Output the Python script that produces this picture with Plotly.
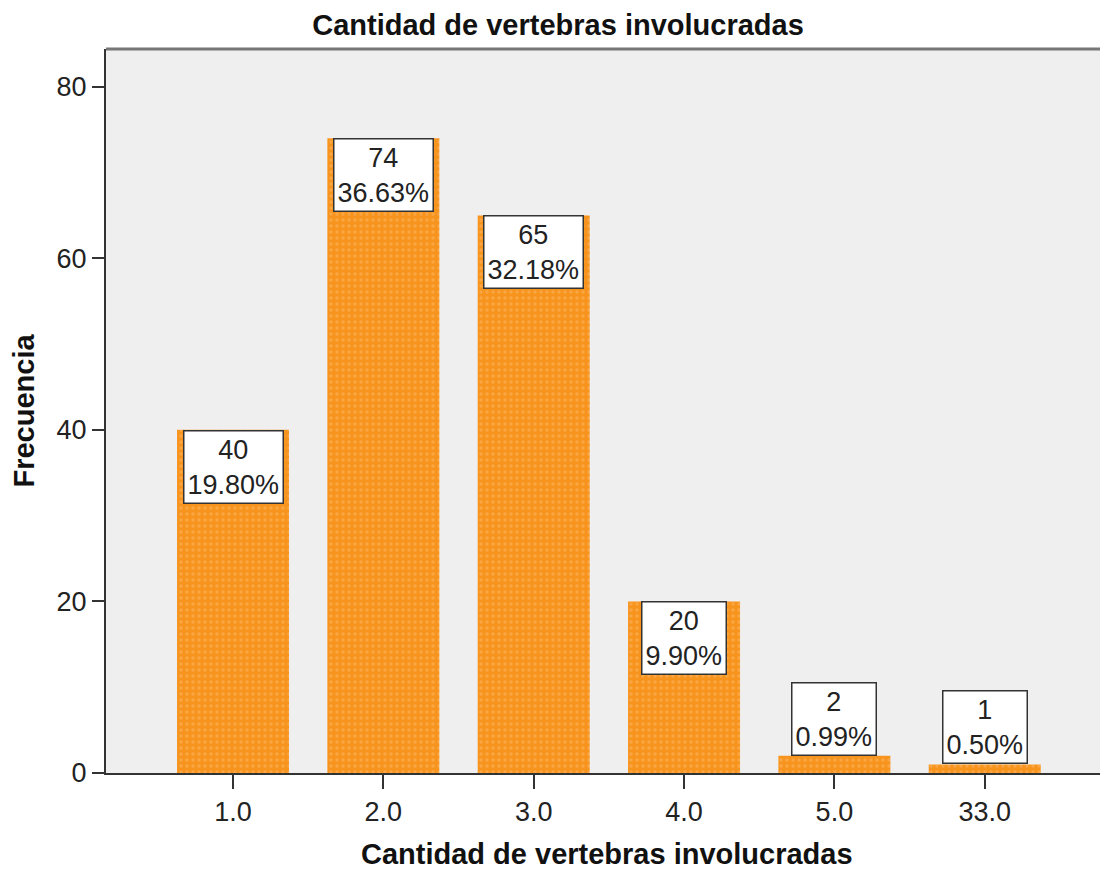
import plotly.graph_objects as go

categories = ["1.0", "2.0", "3.0", "4.0", "5.0", "33.0"]
counts = [40, 74, 65, 20, 2, 1]
percents = ["19.80%", "36.63%", "32.18%", "9.90%", "0.99%", "0.50%"]
y_ticks = [0, 20, 40, 60, 80]

FONT = "Liberation Sans, Arial, sans-serif"
TXT = "#222222"

positions = list(range(len(categories)))

fig = go.Figure()
fig.add_trace(go.Bar(
    x=positions, y=counts, width=0.745,
    marker=dict(color="#F7941E", line=dict(width=0),
                pattern=dict(shape=".", fgcolor="#FBB868", bgcolor="#F7941E",
                             size=6, solidity=0.25)),
    hoverinfo="skip",
))

annotations = []
px_per_unit = 724 / 84.4
for p, c, pc in zip(positions, counts, percents):
    inside = c * px_per_unit > 76
    annotations.append(dict(
        x=p, y=c, xref="x", yref="y",
        text=f"{c}<br>{pc}", showarrow=False,
        yanchor="top" if inside else "bottom", xanchor="center",
        font=dict(family=FONT, size=27, color=TXT),
        bgcolor="white", bordercolor="#333333", borderwidth=1.5, borderpad=3,
    ))

annotations.append(dict(
    text="<b>Cantidad de vertebras involucradas</b>", showarrow=False,
    xref="paper", yref="paper", x=0.5, y=-0.112, xanchor="center", yanchor="middle",
    font=dict(family=FONT, size=29, color="#111111"),
))

fig.update_layout(
    width=1100, height=862,
    margin=dict(l=98, r=0, t=41, b=97),
    paper_bgcolor="white", plot_bgcolor="#EFEFEF",
    showlegend=False,
    title=dict(text="<b>Cantidad de vertebras involucradas</b>", x=0.5, xref="container",
               y=0.980, yref="container", yanchor="middle", xanchor="center",
               font=dict(family=FONT, size=29, color="#111111")),
    annotations=annotations,
    shapes=[dict(type="line", xref="paper", yref="paper", x0=0, x1=1, y0=1, y1=1,
                 line=dict(color="#777777", width=3))],
)
fig.update_xaxes(
    range=[-0.845, 5.82], tickmode="array", tickvals=positions, ticktext=categories,
    showgrid=False, zeroline=False, showline=True, linecolor="#333333", linewidth=2,
    ticks="outside", ticklen=14, tickwidth=2, tickcolor="#333333",
    tickfont=dict(family=FONT, size=27, color=TXT), automargin=False,
)
fig.update_yaxes(
    range=[0, 84.4], tickmode="array", tickvals=y_ticks,
    showgrid=False, zeroline=False, showline=True, linecolor="#333333", linewidth=2,
    ticks="outside", ticklen=12, tickwidth=2, tickcolor="#333333",
    tickfont=dict(family=FONT, size=27, color=TXT),
    title=dict(text="<b>Frecuencia</b>", standoff=20,
               font=dict(family=FONT, size=29, color="#111111")),
)

fig.write_html("out.html")
